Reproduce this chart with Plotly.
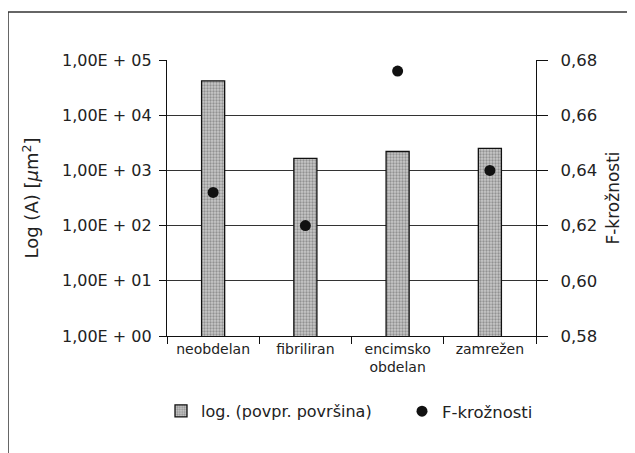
import plotly.graph_objects as go

categories = ["neobdelan", "fibriliran", "encimsko<br>obdelan", "zamrežen"]
area_values = [42000, 1650, 2200, 2500]
f_values = [0.632, 0.620, 0.676, 0.640]

left_tickvals = [1, 10, 100, 1000, 10000, 100000]
left_ticktext = ["1,00E + 00", "1,00E + 01", "1,00E + 02", "1,00E + 03", "1,00E + 04", "1,00E + 05"]
right_tickvals = [0.58, 0.60, 0.62, 0.64, 0.66, 0.68]
right_ticktext = ["0,58", "0,60", "0,62", "0,64", "0,66", "0,68"]

FONT = "DejaVu Sans, Liberation Sans, sans-serif"

# page offset (browser body margin)
OFF = 8
W, H = 635, 453
# plot area in page coordinates
PL, PR, PT, PB = 167, 536, 60, 336
L = PL - OFF
T = PT - OFF
R = W - (PR - OFF)
B = H - (PB - OFF)
pw, ph = PR - PL, PB - PT

def px(x):
    return (x - PL) / pw

def py(y):
    return (PB - y) / ph

fig = go.Figure()
fig.add_trace(go.Bar(
    x=categories, y=area_values, name="log. (povpr. površina)",
    width=0.25,
    marker=dict(color="#b0b0b0",
                line=dict(color="#111", width=1.3),
                pattern=dict(shape=".", fgcolor="#5a5a5a", bgcolor="#c8c8c8",
                             size=3, solidity=0.45)),
    yaxis="y", legend="legend",
))
fig.add_trace(go.Scatter(
    x=categories, y=f_values, name="F-krožnosti", mode="markers",
    marker=dict(color="#111", size=11),
    yaxis="y2", legend="legend2",
))

fig.update_layout(
    width=W, height=H,
    margin=dict(l=L, r=R, t=T, b=B, autoexpand=False),
    paper_bgcolor="white", plot_bgcolor="white",
    font=dict(family=FONT, color="#222", size=14),
    showlegend=True,
    legend=dict(orientation="h", x=px(161), y=py(394), xanchor="left", yanchor="top",
                font=dict(size=16, color="#222"), itemwidth=30,
                bgcolor="rgba(0,0,0,0)"),
    legend2=dict(orientation="h", x=px(402), y=py(394), xanchor="left", yanchor="top",
                 font=dict(size=16.5, color="#222"), itemwidth=30,
                 bgcolor="rgba(0,0,0,0)"),
    xaxis=dict(showline=True, linecolor="#111", linewidth=1.3, automargin=False,
               ticks="outside", tickson="boundaries", ticklen=7, tickcolor="#111",
               tickfont=dict(size=14), showgrid=False, mirror=False),
    yaxis=dict(type="log", range=[0, 5], tickvals=left_tickvals, ticktext=left_ticktext,
               showline=True, linecolor="#111", linewidth=1.3, automargin=False,
               ticks="outside", ticklen=7, tickcolor="#111", ticklabelstandoff=4,
               showgrid=True, gridcolor="#333", gridwidth=1,
               tickfont=dict(size=16),
               title=dict(text="Log (A) [<i>μ</i>m<sup>2</sup>]", font=dict(size=18), standoff=18)),
    yaxis2=dict(overlaying="y", side="right", range=[0.58, 0.68],
                tickvals=right_tickvals, ticktext=right_ticktext,
                showline=True, linecolor="#111", linewidth=1.3, automargin=False,
                ticks="outside", ticklen=11, tickcolor="#111", ticklabelstandoff=9,
                showgrid=False, zeroline=False, tickfont=dict(size=16.5),
                title=dict(text="F-krožnosti", font=dict(size=17), standoff=10)),
    shapes=[
        dict(type="line", xref="paper", yref="paper", x0=px(8), x1=px(650), y0=py(12), y1=py(12),
             line=dict(color="#333", width=1.5)),
        dict(type="line", xref="paper", yref="paper", x0=px(8), x1=px(8), y0=py(12), y1=py(470),
             line=dict(color="#333", width=1.5)),
    ],
)

fig.write_html("out.html")
